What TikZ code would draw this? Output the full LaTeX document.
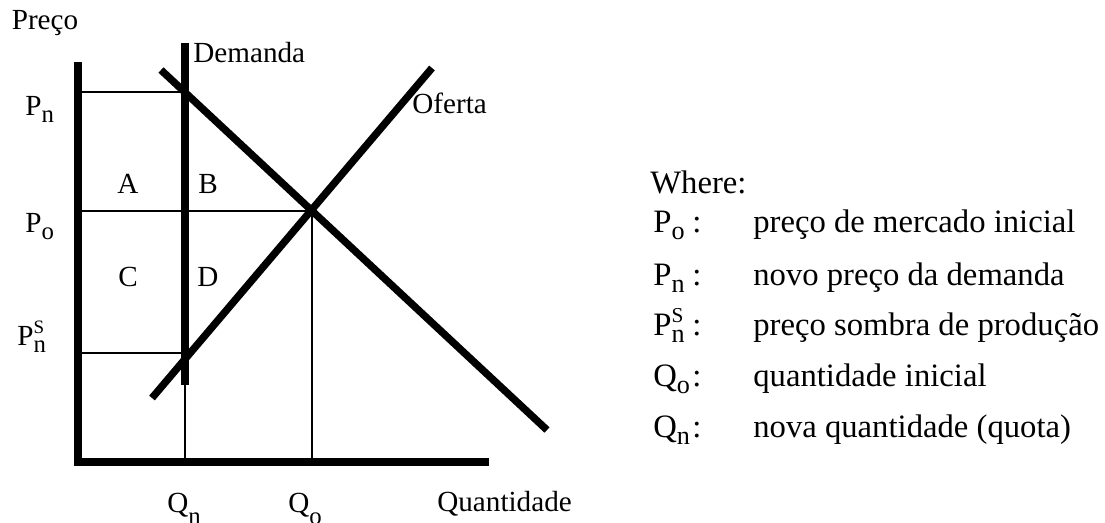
\documentclass[tikz,border=0pt]{standalone}
\usepackage{fontspec}
\setmainfont{Liberation Serif}
% symbol with subscript (and optional superscript), text-based
\newcommand{\lsub}[2]{#1\raisebox{-4.5pt}{\scalebox{0.85}{#2}}}
\newcommand{\lsubsup}[3]{#1\makebox[0pt][l]{\raisebox{6.5pt}{\scalebox{0.65}{#3}}}\raisebox{-4.5pt}{\scalebox{0.85}{#2}}}
\newcommand{\qsub}[2]{#1\raisebox{-7pt}{\scalebox{0.85}{#2}}}
\newcommand{\gsub}[2]{#1\raisebox{-4pt}{\scalebox{0.8}{#2}}}
\newcommand{\gsubsup}[3]{#1\makebox[0pt][l]{\raisebox{7pt}{\scalebox{0.65}{#3}}}\raisebox{-4pt}{\scalebox{0.8}{#2}}}
\begin{document}
\begin{tikzpicture}[x=0.02cm,y=-0.02cm,
  thickline/.style={line width=4.2pt},
  thinline/.style={line width=0.9pt},
  lab/.style={font=\fontsize{16.6}{20}\selectfont, inner sep=0pt},
  leg/.style={font=\fontsize{18.6}{22}\selectfont, inner sep=0pt, anchor=base west}]
\useasboundingbox (0,0) rectangle (1105,522);
% key points
\coordinate (ytop) at (78,62);
\coordinate (orig) at (78,462);
\coordinate (xend) at (489,462);
\coordinate (qtop) at (185,43);
\coordinate (qbot) at (185,385);
\coordinate (dA) at (161,70);
\coordinate (dB) at (547,430);
\coordinate (sA) at (152,398);
\coordinate (sB) at (432,68);
\coordinate (E) at (312,211);
\coordinate (pnL) at (78,92);
\coordinate (pnR) at (185,92);
\coordinate (poL) at (78,211);
\coordinate (psL) at (78,353);
\coordinate (psR) at (185,353);
\coordinate (qnB) at (185,462);
\coordinate (qoB) at (312,462);
% thin guide lines
\draw[thinline] (pnL) -- (pnR);
\draw[thinline] (poL) -- (E);
\draw[thinline] (psL) -- (psR);
\draw[thinline] (psR) -- (qnB);
\draw[thinline] (E) -- (qoB);
% thick lines
\draw[thickline, line join=miter] (ytop) -- (orig) -- (xend);
\draw[thickline] (qtop) -- (qbot);
\draw[thickline] (dA) -- (dB);
\draw[thickline] (sA) -- (sB);
% diagram labels
\node[lab] (preco) at (45,23) {Preço};
\node[lab, anchor=base west] (dem) at (193,62) {Demanda};
\node[lab, anchor=base west] (of) at (412,113) {Oferta};
\node[lab, anchor=base west] (lpn) at (25,115) {\lsub{P}{n}};
\node[lab, anchor=base west] (lpo) at (25,232) {\lsub{P}{o}};
\node[lab, anchor=base west] (lps) at (17,345) {\lsubsup{P}{n}{S}};
\node[lab] (la) at (128,184) {A};
\node[lab] (lb) at (208,184) {B};
\node[lab] (lc) at (128,277) {C};
\node[lab] (ld) at (208,277) {D};
\node[lab, anchor=base west] (lqn) at (167,512) {\qsub{Q}{n}};
\node[lab, anchor=base west] (lqo) at (288,512) {\qsub{Q}{o}};
\node[lab, anchor=base west] (lq) at (437,511) {Quantidade};
% legend
\node[leg] (where) at (650,193) {Where:};
\node[leg] (s1) at (653,232) {\gsub{P}{o}};
\node[leg] (c1) at (692,232) {:};
\node[leg] (t1) at (753,232) {preço de mercado inicial};
\node[leg] (s2) at (653,285) {\gsub{P}{n}};
\node[leg] (c2) at (692,285) {:};
\node[leg] (t2) at (753,285) {novo preço da demanda};
\node[leg] (s3) at (653,335) {\gsubsup{P}{n}{S}};
\node[leg] (c3) at (692,335) {:};
\node[leg] (t3) at (753,335) {preço sombra de produção};
\node[leg] (s4) at (653,386) {\gsub{Q}{o}};
\node[leg] (c4) at (692,386) {:};
\node[leg] (t4) at (753,386) {quantidade inicial};
\node[leg] (s5) at (653,437) {\gsub{Q}{n}};
\node[leg] (c5) at (692,437) {:};
\node[leg] (t5) at (753,437) {nova quantidade (quota)};
\end{tikzpicture}
\end{document}
